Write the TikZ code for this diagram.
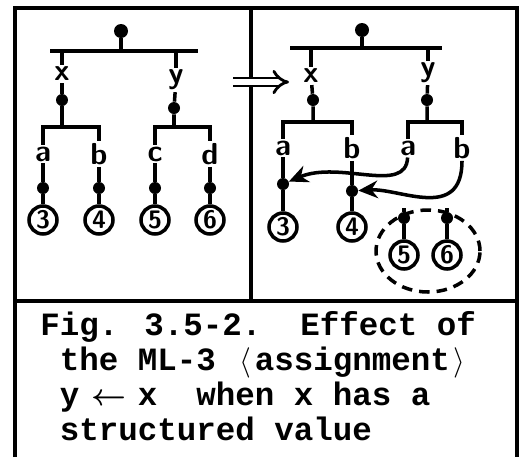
\documentclass[tikz,border=0pt]{standalone}
\usepackage{fontspec}
\newfontfamily\capfont{Liberation Mono}
\usetikzlibrary{arrows.meta}

\tikzset{
  tree/.style={line width=2pt},
  frame/.style={line width=1.8pt},
  pt/.style={circle, fill=black, inner sep=0pt, minimum size=0.24cm},
  val/.style={circle, draw, line width=2pt, inner sep=0pt, minimum size=0.56cm,
    font=\sffamily\bfseries\Large},
  lbl/.style={inner sep=1pt, font=\sffamily\bfseries\LARGE},
  capline/.style={anchor=base west, inner sep=0pt, font=\capfont\bfseries\fontsize{18.5}{20}\selectfont},
  ptr/.style={tree, -{Stealth[length=11pt, width=10pt]}},
}

\begin{document}
\begin{tikzpicture}[x=0.02cm, y=-0.02cm]
  \useasboundingbox (0,0) rectangle (519,457);
  % frame
  \draw[frame] (15,457) -- (15,8) -- (517,8) -- (517,457);
  \draw[frame] (15,301) -- (517,301);
  \draw[frame] (251,8) -- (251,301);

  % ----- before -----
  \node[pt, minimum size=0.28cm] (lr) at (121,31) {};
  \coordinate (lrb) at (121,51);
  \draw[tree] (lr) -- (lrb);
  \draw[tree] (50,51) -- (198,51);
  \node[lbl] (lx) at (62,74) {x};
  \node[lbl] (ly) at (176,80) {y};
  \node[pt] (lxd) at (62,100) {};
  \node[pt] (lyd) at (174,108) {};
  \draw[tree] (lx) -- (lx |- lrb);
  \draw[tree] (ly) -- (ly |- lrb);
  \coordinate (lxb) at (62,127);
  \coordinate (lyb) at (174,127);
  \draw[tree] (lx) -- (lxd) -- (lxb);
  \draw[tree] (ly) -- (lyd) -- (lyb);
  \foreach \n/\x/\d in {a/43/3, b/99/4, c/155/5, d/210/6} {
    \node[lbl] (l\n) at (\x,154) {\n};
    \node[pt] (l\n d) at (\x,188) {};
    \node[val] (l\n v) at (\x,220) {\d};
    \draw[tree] (l\n) -- (l\n d) -- (l\n v);
  }
  \draw[tree] (la) |- (lxb) -| (lb);
  \draw[tree] (lc) |- (lyb) -| (ld);

  % assignment
  \coordinate (gs) at (233,82);
  \coordinate (ge) at (289,82);
  \draw[line width=1.6pt, double distance=3pt, -{Implies}] (gs) -- (ge);

  % ----- after -----
  \node[pt, minimum size=0.28cm] (rr) at (362,30) {};
  \coordinate (rrb) at (362,48);
  \draw[tree] (rr) -- (rrb);
  \draw[tree] (290,48) -- (442,48);
  \node[lbl] (rx) at (311,76) {x};
  \node[lbl] (ry) at (428,73) {y};
  \node[pt] (rxd) at (313,100) {};
  \node[pt] (ryd) at (427,100) {};
  \draw[tree] (rx) -- (rx |- rrb);
  \draw[tree] (ry) -- (ry |- rrb);
  \coordinate (rxb) at (313,122);
  \coordinate (ryb) at (427,122);
  \draw[tree] (rx) -- (rxd) -- (rxb);
  \draw[tree] (ry) -- (ryd) -- (ryb);
  \node[lbl] (rxa) at (283,148) {a};
  \node[lbl] (rxbl) at (352,148) {b};
  \node[lbl] (rya) at (408,148) {a};
  \node[lbl] (rybl) at (462,148) {b};
  \draw[tree] (rxa) |- (rxb) -| (rxbl);
  \draw[tree] (rya) |- (ryb) -| (rybl);
  \node[pt] (rxad) at (283,184) {};
  \node[pt] (rxbd) at (352,191) {};
  \node[val] (rxav) at (283,227) {3};
  \node[val] (rxbv) at (352,227) {4};
  \draw[tree] (rxa) -- (rxad) -- (rxav);
  \draw[tree] (rxbl) -- (rxbd) -- (rxbv);
  % pointers of y now go to x's values
  \draw[ptr] (rya) .. controls (406,195) and (340,160) .. (rxad);
  \draw[ptr] (rybl) .. controls (462,222) and (400,188) .. (rxbd);
  % old values of y
  \node[pt] (o5d) at (404,218) {};
  \node[pt] (o6d) at (447,218) {};
  \node[val] (o5) at (404,255) {5};
  \node[val] (o6) at (447,255) {6};
  \coordinate (o5t) at (404,208);
  \coordinate (o6t) at (447,208);
  \draw[tree] (o5t) -- (o5d) -- (o5);
  \draw[tree] (o6t) -- (o6d) -- (o6);
  \draw[tree, dash pattern=on 6pt off 4pt] (428,251) ellipse [x radius=1.04cm, y radius=0.82cm];

  % caption
  \node[capline] (c1) at (40,335) {Fig. 3.5-2.\ \ Effect of};
  \node[capline] (c2) at (59.5,370) {the ML-3 \makebox[0.6em]{$\langle$}assignment\makebox[0.6em]{$\rangle$}};
  \node[capline] (c3) at (59.5,405) {y \makebox[0.6em]{\fontsize{17}{17}\selectfont\boldmath$\leftarrow$} x\ \ when x has a};
  \node[capline] (c4) at (59.5,440) {structured value};
\end{tikzpicture}
\end{document}
